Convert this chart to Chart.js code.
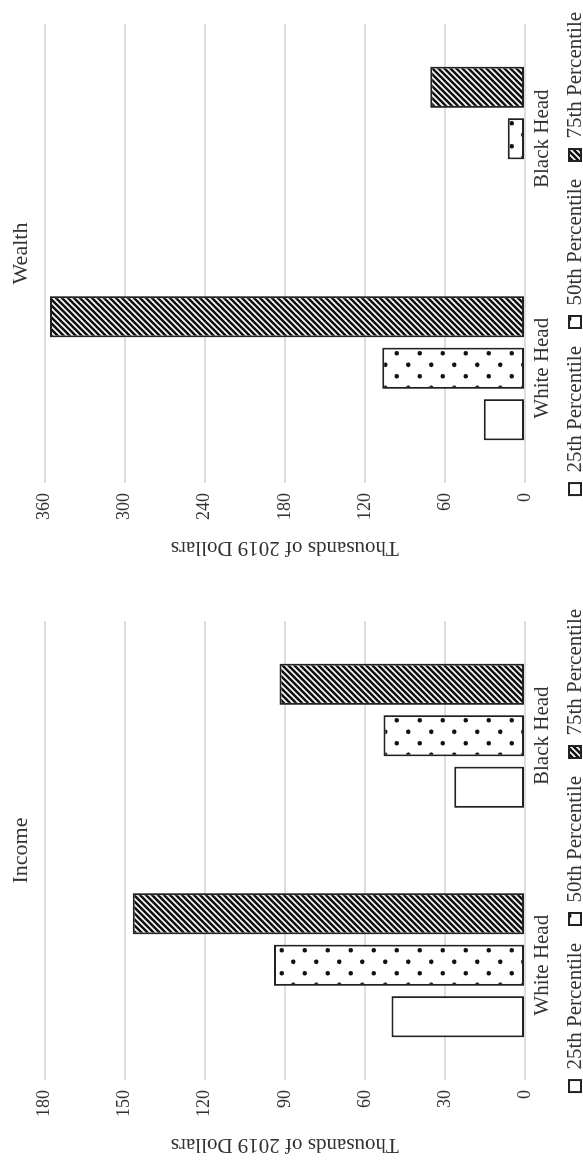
<!DOCTYPE html>
<html>
<head>
<meta charset="utf-8">
<script src="https://cdn.jsdelivr.net/npm/chart.js"></script>
<style>
  html, body { margin: 0; padding: 0; background: #ffffff; overflow: hidden; width: 583px; height: 1163px; }
  #rot { position: absolute; left: 0; top: 0; width: 1230px; height: 608px; transform-origin: 0 0; transform: translate(0px, 1163px) rotate(-90deg); }
  #incomeCanvas { position: absolute; left: 0; top: 0; }
  #wealthCanvas { position: absolute; left: 597px; top: 0; }
</style>
</head>
<body>
<div id="rot">
  <canvas id="incomeCanvas" width="625" height="608"></canvas>
  <canvas id="wealthCanvas" width="625" height="608"></canvas>
</div>
<script>
// ---- Data (thousands of 2019 dollars) ----
const categories = ['White Head', 'Black Head'];
const seriesLabels = ['25th Percentile', '50th Percentile', '75th Percentile'];

const incomeP25 = [50, 26.5];
const incomeP50 = [94, 53];
const incomeP75 = [147, 92];

const wealthP25 = [31, 0];
const wealthP50 = [107, 13];
const wealthP75 = [356, 71];

const incomeTickValues = [0, 30, 60, 90, 120, 150, 180];
const wealthTickValues = [0, 60, 120, 180, 240, 300, 360];

const axisTitle = 'Thousands of 2019 Dollars';
const FONT = "'Liberation Serif', 'Times New Roman', serif";
const TEXT = '#333333';
const EDGE = '#222222';

function hatchPattern(ctx) {
  const c = document.createElement('canvas');
  c.width = 6; c.height = 6;
  const g = c.getContext('2d');
  g.fillStyle = '#ffffff';
  g.fillRect(0, 0, 6, 6);
  g.strokeStyle = '#111111';
  g.lineWidth = 2.6;
  g.beginPath();
  for (let k = -1; k <= 2; k++) {
    const o = k * 6;
    g.moveTo(o - 6, 12); g.lineTo(o + 12, -6);
  }
  g.stroke();
  return ctx.createPattern(c, 'repeat');
}

function dotPattern(ctx) {
  const s = 23;
  const c = document.createElement('canvas');
  c.width = s; c.height = s;
  const g = c.getContext('2d');
  g.fillStyle = '#ffffff';
  g.fillRect(0, 0, s, s);
  g.fillStyle = '#111111';
  const pts = [[5.75, 5.75], [17.25, 17.25]];
  pts.forEach(p => { g.beginPath(); g.arc(p[0], p[1], 2.3, 0, Math.PI * 2); g.fill(); });
  return ctx.createPattern(c, 'repeat');
}

const shiftLegend = {
  id: 'shiftLegend',
  afterLayout(chart) {
    const d = 12.5;
    if (chart.legend) { chart.legend.top -= d; chart.legend.bottom -= d; }
  }
};

function makeChart(id, title, p25, p50, p75, tickValues) {
  const canvas = document.getElementById(id);
  const ctx = canvas.getContext('2d');
  const fills = ['#ffffff', dotPattern(ctx), hatchPattern(ctx)];
  const series = [p25, p50, p75];
  const step = tickValues[1] - tickValues[0];
  return new Chart(ctx, {
    type: 'bar',
    plugins: [shiftLegend],
    data: {
      labels: categories,
      datasets: series.map((d, i) => ({
        label: seriesLabels[i],
        data: d,
        backgroundColor: fills[i],
        borderColor: EDGE,
        borderWidth: 2,
        borderSkipped: false,
        categoryPercentage: 0.673,
        barPercentage: 0.8
      }))
    },
    options: {
      responsive: false,
      animation: false,
      devicePixelRatio: 1,
      layout: { padding: 0 },
      plugins: {
        tooltip: { enabled: false },
        title: {
          display: true,
          text: title,
          color: TEXT,
          font: { family: FONT, size: 22, weight: 'normal' },
          padding: { top: 8, bottom: 10.2 }
        },
        legend: {
          display: true,
          position: 'bottom',
          labels: {
            color: TEXT,
            font: { family: FONT, size: 21 },
            boxWidth: 12,
            boxHeight: 12,
            padding: 18
          }
        }
      },
      scales: {
        x: {
          grid: { display: false, drawTicks: false },
          border: { display: false },
          ticks: { color: TEXT, font: { family: FONT, size: 21 }, padding: 4.4, maxRotation: 0 }
        },
        y: {
          min: tickValues[0],
          max: tickValues[tickValues.length - 1],
          grid: { color: '#dddddd', lineWidth: 2, drawTicks: false },
          border: { display: false },
          ticks: { color: TEXT, font: { family: FONT, size: 18 }, padding: 10, stepSize: step },
          title: {
            display: true,
            text: axisTitle,
            color: TEXT,
            font: { family: FONT, size: 21 },
            padding: { top: 6, bottom: 0 }
          },
          afterFit(a) { a.width = 83; }
        },
        yRight: {
          position: 'right',
          display: true,
          grid: { display: false, drawTicks: false },
          border: { display: false },
          ticks: { display: false },
          afterFit(a) { a.width = 83; }
        }
      }
    }
  });
}

makeChart('incomeCanvas', 'Income', incomeP25, incomeP50, incomeP75, incomeTickValues);
makeChart('wealthCanvas', 'Wealth', wealthP25, wealthP50, wealthP75, wealthTickValues);
</script>
</body>
</html>
